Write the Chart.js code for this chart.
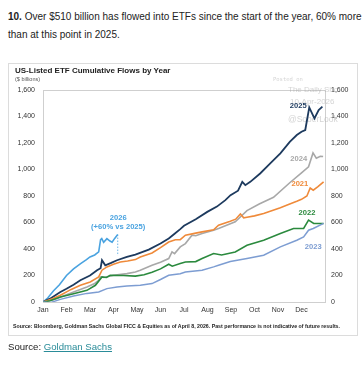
<!DOCTYPE html>
<html>
<head>
<meta charset="utf-8">
<script src="https://cdn.jsdelivr.net/npm/chart.js@4.4.0/dist/chart.umd.min.js"></script>
<style>
  body { margin: 0; background: #fff; font-family: "Liberation Sans", Arial, sans-serif; }
  #wrap { position: relative; width: 363px; height: 368px; overflow: hidden; }
  .headline { position: absolute; left: 8px; top: 8px; font-size: 10px; line-height: 18px; color: #222; white-space: nowrap; }
  #panel { position: absolute; left: 8px; top: 63px; width: 350px; height: 273px; box-sizing: border-box; border: 1px solid #dcdcdc; }
  #chart { position: absolute; left: -1px; top: -1px; }
  .title { position: absolute; left: 6px; top: 2px; font-size: 8px; font-weight: bold; color: #222; white-space: nowrap; }
  .unit { position: absolute; left: 6px; top: 12px; font-size: 5.5px; color: #555; white-space: nowrap; }
  #note { position: absolute; left: 4px; top: 259px; font-family: "Liberation Sans Narrow", "Liberation Sans", Arial, sans-serif; font-size: 5.6px; font-weight: bold; color: #222; white-space: nowrap; transform-origin: 0 0; }
  .source { position: absolute; left: 8px; top: 341px; font-size: 9.6px; color: #222; white-space: nowrap; }
  .source a { color: #2a8c99; text-decoration: underline; }
</style>
</head>
<body>
<div id="wrap">
  <div class="headline"><b>10.</b> Over $510 billion has flowed into ETFs since the start of the year, 60% more<br>than at this point in 2025.</div>
  <div id="panel">
    <canvas id="chart" width="350" height="273"></canvas>
    <div class="title">US-Listed ETF Cumulative Flows by Year</div>
    <div class="unit">($ billions)</div>
    <div id="note">Source: Bloomberg, Goldman Sachs Global FICC &amp; Equities as of April 8, 2026. Past performance is not indicative of future results.</div>
  </div>
  <div class="source">Source: <a>Goldman Sachs</a></div>
</div>
<script>
// months since Jan 1 -> cumulative flows ($bn)
const monthLabels = ['Jan', 'Feb', 'Mar', 'Apr', 'May', 'Jun', 'Jul', 'Aug', 'Sep', 'Oct', 'Nov', 'Dec'];
const yTicks = [0, 200, 400, 600, 800, 1000, 1200, 1400, 1600];

const flows2026 = [[0,0],[0.2,30],[0.45,85],[0.7,130],[1.0,200],[1.3,250],[1.6,290],[1.85,320],[2.0,340],[2.2,355],
  [2.37,378],[2.45,470],[2.5,478],[2.58,450],[2.72,478],[2.85,460],[2.94,452],[3.05,480],[3.18,509]];
const flows2025 = [[0,0],[0.3,25],[0.74,76],[1.0,100],[1.3,130],[1.59,164],[2.0,200],[2.3,240],[2.45,255],[2.51,315],
  [2.65,277],[2.9,295],[3.15,315],[3.57,340],[3.93,358],[4.5,395],[5.0,441],[5.35,479],[5.6,515],[5.84,550],[6.0,575],
  [6.5,625],[6.99,680],[7.4,720],[7.76,769],[7.98,806],[8.3,840],[8.48,907],[8.61,882],[8.82,907],[9.24,970],
  [9.67,1046],[10.1,1122],[10.5,1209],[10.8,1260],[11.0,1285],[11.16,1298],[11.33,1469],[11.55,1386],[11.73,1449],[11.89,1474]];
const flows2024 = [[0,0],[0.5,20],[1.0,55],[1.3,76],[1.87,113],[2.2,140],[2.37,164],[2.44,189],[2.6,185],[3.0,202],
  [3.57,214],[3.93,227],[4.14,240],[4.64,277],[5.0,300],[5.35,328],[5.49,378],[5.6,365],[5.84,416],[6.06,441],
  [6.34,504],[6.5,500],[6.77,517],[7.26,542],[7.47,555],[8.18,605],[8.68,690],[9.2,740],[9.81,790],[10.5,900],
  [11.0,975],[11.3,1020],[11.49,1125],[11.63,1085],[11.8,1100],[11.92,1098]];
const flows2021 = [[0,0],[0.4,25],[0.74,51],[1.2,95],[1.59,126],[2.01,151],[2.37,189],[2.51,240],[2.72,265],[3.0,285],
  [3.29,302],[3.6,310],[3.93,320],[4.14,340],[4.64,370],[5.0,410],[5.35,453],[5.63,470],[5.84,470],[6.06,504],
  [6.5,520],[6.77,529],[7.26,545],[7.47,580],[7.97,610],[8.2,625],[8.4,665],[8.54,635],[8.68,640],[9.0,650],
  [9.39,668],[10.1,712],[10.5,740],[10.8,760],[11.0,775],[11.23,800],[11.37,860],[11.5,844],[11.7,870],[11.94,907]];
const flows2022 = [[0,0],[0.3,10],[0.74,38],[1.3,63],[1.87,88],[2.23,126],[2.51,189],[2.7,185],[2.86,202],[3.43,200],
  [3.93,195],[4.3,205],[4.64,225],[5.0,250],[5.35,285],[5.5,270],[5.84,290],[6.06,302],[6.5,305],[6.77,328],
  [7.26,366],[7.6,355],[8.18,378],[8.68,428],[9.39,466],[10.1,517],[10.66,555],[11.09,555],[11.3,618],[11.52,593],[11.94,593]];
const flows2023 = [[0,0],[0.3,-5],[0.74,20],[1.3,45],[1.87,65],[2.37,76],[2.72,101],[3.15,113],[3.57,121],[4.14,126],
  [4.64,139],[5.0,170],[5.35,202],[5.84,214],[6.06,227],[6.77,240],[7.26,265],[7.47,277],[7.97,305],[8.68,328],
  [9.39,353],[10.1,416],[10.8,466],[11.09,491],[11.3,542],[11.5,555],[11.94,593]];

// dotted callout under the 2026 line end, down to the 2025 line
const calloutTo = 350;

const pts = arr => arr.map(p => ({ x: p[0], y: p[1] }));
const last2026 = flows2026[flows2026.length - 1];

const seriesLabels = [
  { text: '2025', x: 10.86, y: 1479, color: '#1d3a5e' },
  { text: '2024', x: 10.88, y: 1079, color: '#a8a8a8' },
  { text: '2021', x: 10.93, y: 890, color: '#ef8a3a' },
  { text: '2022', x: 11.23, y: 670, color: '#2b8a3e' },
  { text: '2023', x: 11.5, y: 413, color: '#7d9dd2' },
  { text: '2026', x: 3.2, y: 633, color: '#4aa3e0' },
  { text: '(+60% vs 2025)', x: 3.2, y: 565, color: '#4aa3e0' }
];

const framePlugin = {
  id: 'frame',
  beforeDatasetsDraw(chart) {
    const { ctx, chartArea: a } = chart;
    ctx.save();
    ctx.strokeStyle = '#cfcfcf';
    ctx.lineWidth = 1;
    ctx.strokeRect(Math.round(a.left) + 0.5, Math.round(a.top) + 0.5, Math.round(a.right - a.left), Math.round(a.bottom - a.top));
    // watermark
    ctx.fillStyle = 'rgba(160,160,160,0.45)';
    ctx.textBaseline = 'middle';
    ctx.font = '5.5px "DejaVu Sans Mono", monospace';
    ctx.fillText('Posted on', 265, 17);
    ctx.font = '8px "Liberation Sans", Arial';
    ctx.fillText('The Daily Shot', 280, 27);
    ctx.fillText('10-Apr-2026', 282, 38.5);
    ctx.font = '8.5px "Liberation Sans", Arial';
    ctx.fillText('@SoberLook', 280, 57);
    ctx.restore();
  },
  afterDatasetsDraw(chart) {
    const { ctx, scales } = chart;
    ctx.save();
    ctx.textAlign = 'center';
    ctx.textBaseline = 'middle';
    ctx.font = 'bold 7.6px "Liberation Sans", Arial';
    seriesLabels.forEach(l => {
      ctx.fillStyle = l.color;
      ctx.fillText(l.text, scales.x.getPixelForValue(l.x), scales.y.getPixelForValue(l.y));
    });
    ctx.restore();
  }
};

const lineDs = (label, data, color, width) => ({
  label, data: pts(data), borderColor: color, borderWidth: width,
  pointRadius: 0, tension: 0, fill: false
});

const tickFont = { size: 7, family: '"Liberation Sans", Arial' };

new Chart(document.getElementById('chart'), {
  type: 'line',
  data: {
    datasets: [
      lineDs('2023', flows2023, '#7d9dd2', 1.5),
      lineDs('2022', flows2022, '#2b8a3e', 1.6),
      lineDs('2021', flows2021, '#ef8a3a', 1.6),
      lineDs('2024', flows2024, '#a8a8a8', 1.6),
      lineDs('2025', flows2025, '#1d3a5e', 1.8),
      lineDs('2026', flows2026, '#4aa3e0', 1.6),
      {
        label: 'callout',
        data: [{ x: last2026[0], y: last2026[1] }, { x: last2026[0], y: calloutTo }],
        borderColor: '#4aa3e0', borderWidth: 0.8, borderDash: [1.5, 1.5], pointRadius: 0
      }
    ]
  },
  options: {
    responsive: false,
    animation: false,
    devicePixelRatio: 1,
    layout: { padding: { top: 27, left: 0, right: 0, bottom: 0 } },
    plugins: { legend: { display: false }, tooltip: { enabled: false } },
    scales: {
      x: {
        type: 'linear', min: 0, max: 12,
        grid: { display: false, drawTicks: false }, border: { display: false },
        afterFit: s => { s.height = 34; },
        afterBuildTicks: s => { s.ticks = monthLabels.map((m, i) => ({ value: i })); },
        ticks: {
          autoSkip: false, maxRotation: 0, padding: 4,
          font: tickFont, color: '#333',
          callback: v => monthLabels[v] || ''
        }
      },
      y: {
        position: 'left', min: 0, max: 1600,
        grid: { display: false, drawTicks: false }, border: { display: false },
        afterFit: s => { s.width = 35; },
        afterBuildTicks: s => { s.ticks = yTicks.map(v => ({ value: v })); },
        ticks: {
          padding: 8, font: tickFont, color: '#333',
          callback: v => v.toLocaleString('en-US')
        }
      },
      y2: {
        position: 'right', min: 0, max: 1600,
        grid: { display: false, drawTicks: false }, border: { display: false },
        afterFit: s => { s.width = 33; },
        afterBuildTicks: s => { s.ticks = yTicks.map(v => ({ value: v })); },
        ticks: {
          padding: 6, font: tickFont, color: '#333',
          callback: v => v.toLocaleString('en-US')
        }
      }
    }
  },
  plugins: [framePlugin]
});

// squeeze the source note into the panel width
const note = document.getElementById('note');
const w = note.getBoundingClientRect().width;
if (w > 327) note.style.transform = 'scaleX(' + (327 / w) + ')';
</script>
</body>
</html>
